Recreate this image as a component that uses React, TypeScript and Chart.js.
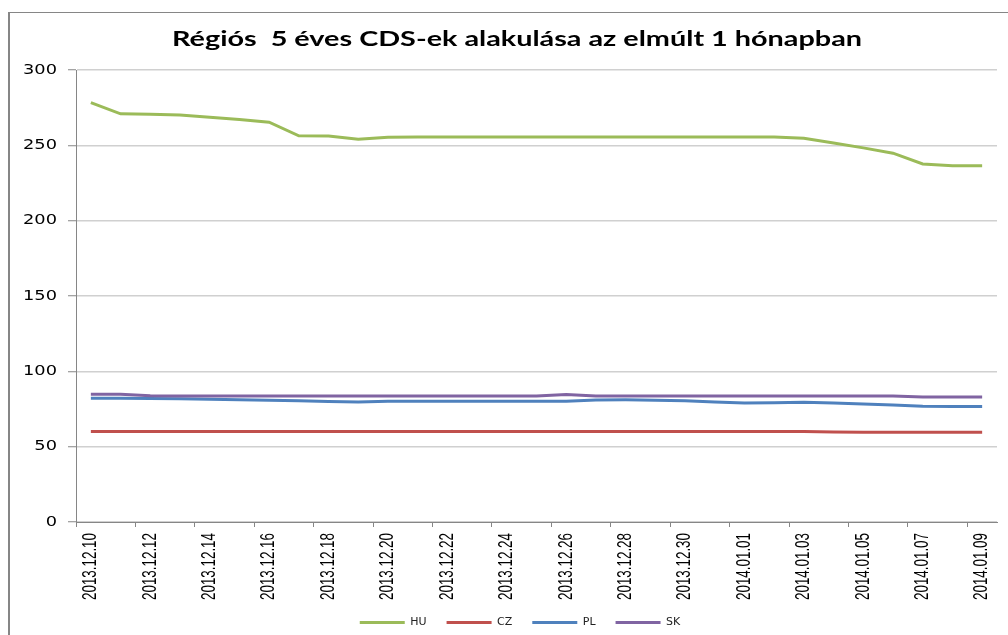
import React, { useEffect, useRef } from "react";
import { Chart, registerables } from "chart.js";

Chart.register(...registerables);

const categories = [
  "2013.12.10", "2013.12.11", "2013.12.12", "2013.12.13", "2013.12.14", "2013.12.15",
  "2013.12.16", "2013.12.17", "2013.12.18", "2013.12.19", "2013.12.20", "2013.12.21",
  "2013.12.22", "2013.12.23", "2013.12.24", "2013.12.25", "2013.12.26", "2013.12.27",
  "2013.12.28", "2013.12.29", "2013.12.30", "2013.12.31", "2014.01.01", "2014.01.02",
  "2014.01.03", "2014.01.04", "2014.01.05", "2014.01.06", "2014.01.07", "2014.01.08",
  "2014.01.09",
];

const huValues = [
  278.4, 270.9, 270.7, 270.2, 268.7, 267.1, 265.4, 256.3, 256.2, 254.1, 255.4, 255.5,
  255.5, 255.5, 255.6, 255.6, 255.6, 255.6, 255.6, 255.6, 255.6, 255.6, 255.6, 255.5,
  254.7, 251.6, 248.3, 244.8, 237.6, 236.4, 236.4,
];

const czValues = [
  60.0, 60.0, 60.0, 60.0, 60.0, 60.0, 60.0, 60.0, 60.0, 60.0, 60.0, 60.0,
  60.0, 60.0, 60.0, 60.0, 60.0, 60.0, 60.0, 60.0, 60.0, 60.0, 60.0, 60.0,
  60.0, 59.8, 59.6, 59.5, 59.5, 59.5, 59.5,
];

const plValues = [
  82.1, 82.1, 82.0, 81.8, 81.4, 81.1, 80.8, 80.4, 80.0, 79.6, 80.2, 80.1,
  80.1, 80.1, 80.1, 80.1, 80.2, 81.0, 81.1, 80.8, 80.5, 79.6, 78.9, 79.2,
  79.4, 78.9, 78.3, 77.7, 76.8, 76.7, 76.7,
];

const skValues = [
  84.8, 84.8, 83.8, 83.7, 83.7, 83.7, 83.7, 83.7, 83.7, 83.7, 83.7, 83.7,
  83.7, 83.7, 83.7, 83.7, 84.6, 83.7, 83.7, 83.7, 83.7, 83.7, 83.7, 83.7,
  83.7, 83.7, 83.7, 83.7, 83.0, 83.0, 83.0,
];

const seriesNames = ["HU", "CZ", "PL", "SK"];
const seriesColors = ["#9BBB59", "#C0504D", "#4F81BD", "#8064A2"];
const yTicks = [0, 50, 100, 150, 200, 250, 300];
const titleText = "Régiós  5 éves CDS-ek alakulása az elmúlt 1 hónapban";

const framePlugin = {
  id: "frame",
  beforeDraw(chart: any) {
    const ctx = chart.ctx;
    ctx.save();
    ctx.strokeStyle = "#868686";
    ctx.lineWidth = 2;
    ctx.beginPath();
    ctx.moveTo(9, 12);
    ctx.lineTo(9, chart.height);
    ctx.stroke();
    ctx.lineWidth = 1;
    ctx.beginPath();
    ctx.moveTo(8, 12.5);
    ctx.lineTo(chart.width, 12.5);
    ctx.stroke();
    ctx.restore();
  },
};

// Draws title and axis labels with the reference's horizontal stretch.
const textPlugin = {
  id: "stretchedText",
  afterLayout(chart: any) {
    if (chart.legend) {
      chart.legend.left += 3;
      chart.legend.right += 3;
    }
  },
  afterDraw(chart: any) {
    const ctx = chart.ctx;
    const xs = chart.scales.x;
    const ys = chart.scales.y;

    // title
    ctx.save();
    ctx.fillStyle = "#000";
    ctx.font = "bold 20px Lato";
    const w = ctx.measureText(titleText).width;
    ctx.translate(517, 40);
    ctx.scale(690 / w, 1);
    ctx.textAlign = "center";
    ctx.textBaseline = "middle";
    ctx.fillText(titleText, 0, 0);
    ctx.restore();

    // y labels
    ctx.save();
    ctx.fillStyle = "#000";
    ctx.font = "13.7px 'DejaVu Sans'";
    ctx.textAlign = "right";
    ctx.textBaseline = "middle";
    yTicks.forEach((v) => {
      const y = ys.getPixelForValue(v);
      ctx.save();
      ctx.translate(ys.right - 8 - 11, y);
      ctx.scale(1.3, 1);
      ctx.fillText(String(v), 0, 0);
      ctx.restore();
    });
    ctx.restore();

    // x labels
    ctx.save();
    ctx.fillStyle = "#000";
    ctx.font = "13.4px 'Liberation Sans'";
    ctx.textAlign = "right";
    ctx.textBaseline = "middle";
    categories.forEach((lab, i) => {
      if (i % 2 !== 0) return;
      const x = xs.getPixelForValue(i);
      ctx.save();
      ctx.translate(x, xs.top + 11);
      ctx.rotate(-Math.PI / 2);
      ctx.scale(1, 1.45);
      ctx.fillText(lab, 0, 0);
      ctx.restore();
    });
    ctx.restore();
  },
};

export default function App() {
  const ref = useRef<HTMLCanvasElement | null>(null);

  useEffect(() => {
    if (!ref.current) return;
    const valuesList = [huValues, czValues, plValues, skValues];
    const chart = new Chart(ref.current, {
      type: "line",
      data: {
        labels: categories,
        datasets: valuesList.map((vals, i) => ({
          label: seriesNames[i],
          data: vals,
          borderColor: seriesColors[i],
          backgroundColor: seriesColors[i],
          borderWidth: 3,
          pointRadius: 0,
          tension: 0,
          fill: false,
          order: valuesList.length - 1 - i,
        })),
      },
      options: {
        animation: false,
        responsive: true,
        maintainAspectRatio: false,
        layout: { padding: { left: 37, right: 11, top: 70, bottom: 0 } },
        plugins: {
          title: { display: false },
          legend: {
            position: "bottom",
            labels: {
              color: "#222",
              font: { family: "DejaVu Sans", size: 11 },
              boxWidth: 45,
              boxHeight: 3,
              padding: 20,
              sort: (a: any, b: any) => a.datasetIndex - b.datasetIndex,
              generateLabels: (c: any) => {
                const items = Chart.defaults.plugins.legend.labels.generateLabels(c);
                return items.map((it: any) => ({ ...it, lineWidth: 0, fillStyle: it.strokeStyle }));
              },
            },
          },
          tooltip: { enabled: false },
        },
        scales: {
          x: {
            type: "category",
            offset: true,
            afterFit: (s: any) => {
              s.height = 75;
            },
            border: { display: true, color: "#868686", width: 1 },
            grid: {
              offset: true,
              drawOnChartArea: false,
              drawTicks: true,
              tickLength: 5,
              tickColor: (ctx: any) =>
                typeof ctx.index === "number" && ctx.index % 2 === 0 ? "#868686" : "rgba(0,0,0,0)",
            },
            ticks: {
              autoSkip: false,
              maxRotation: 90,
              minRotation: 90,
              padding: 4,
              color: "rgba(0,0,0,0)",
              font: { family: "'Liberation Sans'", size: 13 },
              callback: (_v: any, i: number) => (i % 2 === 0 ? categories[i] : ""),
            },
          },
          y: {
            min: 0,
            max: 300,
            afterFit: (s: any) => {
              s.width = 39;
            },
            afterBuildTicks: (s: any) => {
              s.ticks = yTicks.map((v) => ({ value: v }));
            },
            border: { display: true, color: "#868686", width: 1 },
            grid: {
              color: "#d0d0d0",
              lineWidth: 1.5,
              tickColor: "#868686",
              tickLength: 8,
              tickWidth: 1,
            },
            ticks: {
              padding: 11,
              color: "rgba(0,0,0,0)",
              font: { family: "DejaVu Sans", size: 14 },
            },
          },
        },
      },
      plugins: [framePlugin, textPlugin],
    } as any);
    return () => chart.destroy();
  }, []);

  return (
    <div
      style={{
        position: "fixed",
        left: 0,
        top: 0,
        width: 1008,
        height: 638,
        overflow: "hidden",
        background: "#fff",
      }}
    >
      <canvas ref={ref} />
    </div>
  );
}
